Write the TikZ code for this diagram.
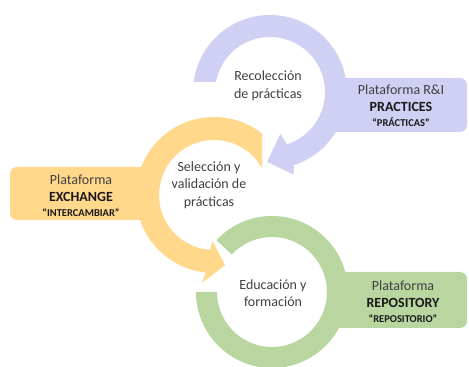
\documentclass[tikz,border=0pt]{standalone}
\usepackage{fontspec}
\setmainfont{Carlito}
\definecolor{lavender}{RGB}{208,208,244}
\definecolor{sand}{RGB}{255,216,140}
\definecolor{sage}{RGB}{185,214,160}
\definecolor{inkgray}{RGB}{64,64,64}

\begin{document}
\begin{tikzpicture}[x=1pt,y=1pt,ring text/.style={align=center,text=inkgray,font=\fontsize{14}{17.5}\selectfont},tab text/.style={align=center,text=inkgray,font=\fontsize{14}{17}\selectfont}]
                \useasboundingbox (0,0) rectangle (469,367);
                \coordinate (practices) at (270,275);
                \coordinate (exchange) at (214,172);
                \coordinate (repository) at (272,75);

                % tabs
                \fill[lavender] (325,289) -- (325,235) [rounded corners=7] -- (467,235) -- (467,289) -- (325,289) [sharp corners] -- cycle;
                \fill[sand] (155,200) -- (155,147) [rounded corners=7] -- (10,147) -- (10,200) -- (155,200) [sharp corners] -- cycle;
                \fill[sage] (330,95) -- (330,39) [rounded corners=7] -- (467,39) -- (467,95) -- (330,95) [sharp corners] -- cycle;

                % rings
                \fill[sage,shift={(repository)}] (137:55) -- (137:76) arc[start angle=137,end angle=-180,radius=76] -- (-180:55) arc[start angle=-180,end angle=137,radius=55] -- cycle;
                \fill[sand,shift={(exchange)}] (29.2:55) -- (52:78) arc[start angle=52,end angle=264,radius=78] -- (262:89) -- (279:71) -- (268:46) -- (266:55) arc[start angle=266,end angle=29.2,radius=55] -- cycle;
                \fill[lavender,shift={(practices)}] (169.5:55) -- (172.5:77) arc[start angle=172.5,end angle=-72,radius=77] -- (-74:86) -- (-92.5:70) -- (-76:43) -- (-72:55) arc[start angle=-72,end angle=169.5,radius=55] -- cycle;

                \node[ring text] (collect) at (268,281) {Recolección\\de prácticas};
                \node[ring text] (select) at (209,182) {Selección y\\validación de\\prácticas};
                \node[ring text] (train) at (273,74) {Educación y\\formación};

                \node[tab text] (ri) at (401,261) {Plataforma R\&I\\{\bfseries\color{black!90}PRACTICES}\\[-2pt]{\fontsize{10.5}{12}\selectfont\bfseries\color{black!90}“PRÁCTICAS”}};
                \node[tab text] (ex) at (81,171) {Plataforma\\{\bfseries\color{black!90}EXCHANGE}\\[-2pt]{\fontsize{10.5}{12}\selectfont\bfseries\color{black!90}“INTERCAMBIAR”}};
                \node[tab text] (repo) at (403,65) {Plataforma\\{\bfseries\color{black!90}REPOSITORY}\\[-2pt]{\fontsize{10.5}{12}\selectfont\bfseries\color{black!90}“REPOSITORIO”}};
            \end{tikzpicture}
\end{document}
